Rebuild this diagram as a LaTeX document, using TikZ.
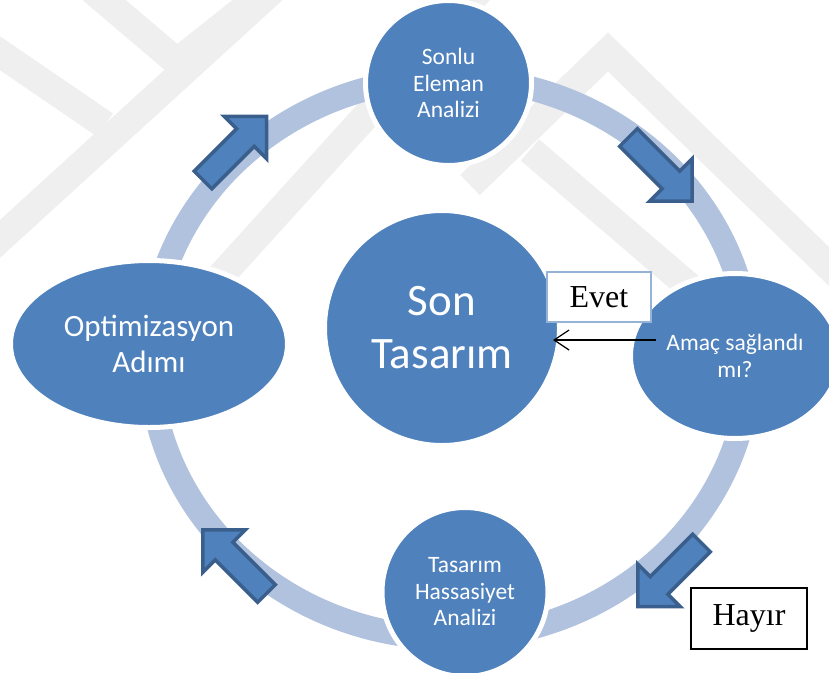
\documentclass[tikz,border=0pt]{standalone}
\usepackage{fontspec}
\newfontfamily\carlito{Carlito}
\newfontfamily\tnr{Liberation Serif}
\usetikzlibrary{shapes.geometric,arrows.meta,calc}
\definecolor{nodeblue}{HTML}{4F81BD}
\definecolor{ringblue}{HTML}{B0C2DE}
\definecolor{arrowedge}{HTML}{3A5F8C}
\definecolor{evetedge}{HTML}{95B3D7}
\definecolor{wmgray}{HTML}{EFEFEF}
\tikzset{
  cyclenode/.style={ellipse, fill=nodeblue, draw=white, line width=5pt, inner sep=0pt, text=white, align=center},
  smalltext/.style={font=\carlito\fontsize{23.5}{26.5}\selectfont},
  ringpath/.style={draw=ringblue, line width=24pt},
  wmband/.style={draw=wmgray, line width=28pt},
  labelbox/.style={rectangle, fill=white, inner sep=0pt, font=\tnr\fontsize{32}{36}\selectfont, text=black},
  blockarrow/.pic={
    \draw[fill=nodeblue, draw=arrowedge, line width=3.5pt, line join=miter]
      (0,-12.5) -- (60,-12.5) -- (60,-30) -- (90,0) -- (60,30) -- (60,12.5) -- (0,12.5) -- cycle;
  }
}
\begin{document}
\begin{tikzpicture}[x=1pt,y=-1pt]
\useasboundingbox (0,0) rectangle (829,672);
\fill[white] (0,0) rectangle (829,672);
\begin{scope}
\clip (0,0) rectangle (829,672);
% watermark
\draw[wmband] (-10,248) -- (275,-12);
\draw[wmband] (190,310) -- (480,-10);
\draw[wmband] (90,-12) -- (177,62) -- (270,-12);
\draw[wmband] (-12,45) -- (105,125);
\draw[wmband] (470,185) -- (608,52) -- (845,282);
\draw[wmband] (530,150) -- (740,330);
% ring
\draw[ringpath] (450,358) ellipse [x radius=300, y radius=280];
% block arrows
\pic[rotate=45] at (203,180) {blockarrow};
\pic[rotate=-45] at (628.5,137.5) {blockarrow};
\pic[rotate=-135] at (701.5,543) {blockarrow};
\pic[rotate=135] at (266.5,593.5) {blockarrow};
% nodes
\node[cyclenode, smalltext, minimum width=166pt, minimum height=165pt] (sonlu) at (448.5,83) {Sonlu\\Eleman\\Analizi};
\node[cyclenode, minimum width=235pt, minimum height=235pt, font=\carlito\fontsize{45}{53}\selectfont] (sontas) at (442,328) {Son\\Tasarım};
\node[cyclenode, minimum width=277pt, minimum height=167pt, font=\carlito\fontsize{31}{36}\selectfont] (optim) at (149,344) {Optimizasyon\\Adımı};
\node[cyclenode, smalltext, minimum width=209pt, minimum height=165pt] (amac) at (735,356) {Amaç sağlandı\\mı?};
\node[cyclenode, smalltext, minimum width=166pt, minimum height=169pt] (tasarim) at (465,592) {Tasarım\\Hassasiyet\\Analizi};
% labels
\node[labelbox, draw=evetedge, line width=2pt, minimum width=104pt, minimum height=50pt] (evet) at (599,297) {Evet};
\node[labelbox, draw=black, line width=2pt, minimum width=116pt, minimum height=61pt] (hayir) at (749,618.5) {Hayır};
% connector
\draw[line width=1.2pt, -{Straight Barb[length=15pt,width=20pt]}] ($(amac.west)+(28,-16)$) -- ($(sontas.east)+(-9,12)$);
\end{scope}
\end{tikzpicture}
\end{document}
